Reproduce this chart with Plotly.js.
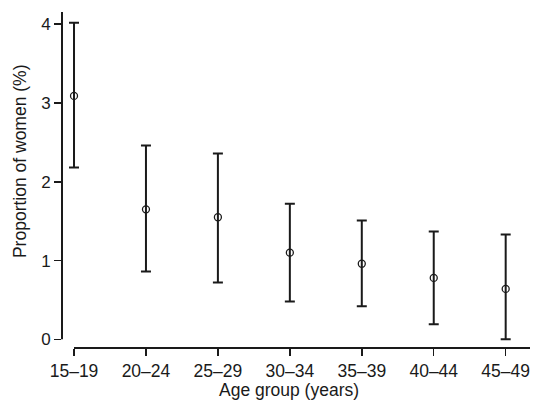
<!DOCTYPE html>
<html>
<head>
<meta charset="utf-8">
<script src="https://cdn.plot.ly/plotly-3.0.1.min.js"></script>
<style>html,body{margin:0;padding:0;background:#fff;}#chart{width:548px;height:405px;}</style>
</head>
<body>
<div id="chart"></div>
<script>
const ageGroups = ["15–19", "20–24", "25–29", "30–34", "35–39", "40–44", "45–49"];
const proportion = [3.09, 1.65, 1.55, 1.10, 0.96, 0.78, 0.64];
const upperCI = [4.02, 2.46, 2.36, 1.72, 1.51, 1.37, 1.33];
const lowerCI = [2.18, 0.86, 0.72, 0.48, 0.42, 0.19, 0.00];

const errPlus = proportion.map((v, i) => upperCI[i] - v);
const errMinus = proportion.map((v, i) => v - lowerCI[i]);

const ink = '#1a1a1a';
const font = 'Liberation Sans, Arial, sans-serif';

const trace = {
  type: 'scatter',
  mode: 'markers',
  x: ageGroups,
  y: proportion,
  marker: {symbol: 'circle-open', size: 7, color: ink, line: {width: 1.3, color: ink}},
  error_y: {type: 'data', symmetric: false, array: errPlus, arrayminus: errMinus,
            color: ink, thickness: 2, width: 5},
  showlegend: false,
  hoverinfo: 'skip'
};

const xTop = 6.338;
const yTop = 4.155;

const layout = {
  width: 548, height: 405,
  margin: {l: 62, r: 18, t: 12, b: 57},
  paper_bgcolor: '#fff', plot_bgcolor: '#fff',
  font: {family: font, color: ink, size: 17},
  xaxis: {
    type: 'category', range: [-0.167, xTop],
    showline: false, showgrid: false, zeroline: false,
    ticks: 'outside', ticklen: 7, tickwidth: 1.5, tickcolor: ink,
    tickfont: {size: 17.5, family: font, color: ink}
  },
  yaxis: {
    range: [-0.11, yTop], dtick: 1, tick0: 0,
    showline: false, showgrid: false, zeroline: false,
    ticks: 'outside', ticklen: 7, tickwidth: 1.5, tickcolor: ink,
    tickfont: {size: 17, family: font, color: ink}
  },
  shapes: [
    {type: 'line', xref: 'paper', yref: 'y', x0: 0, x1: 0, y0: 0, y1: yTop,
     line: {color: ink, width: 2}},
    {type: 'line', xref: 'x', yref: 'paper', x0: 0, x1: xTop, y0: 0, y1: 0,
     line: {color: ink, width: 2}}
  ],
  annotations: [
    {text: 'Proportion of women (%)', xref: 'paper', yref: 'paper',
     x: -0.09, y: 0.556, xanchor: 'center', yanchor: 'middle', textangle: -90,
     showarrow: false, font: {size: 17.5, family: font, color: ink}},
    {text: 'Age group (years)', xref: 'paper', yref: 'paper',
     x: 0.485, y: -0.125, xanchor: 'center', yanchor: 'middle',
     showarrow: false, font: {size: 17.5, family: font, color: ink}}
  ]
};

Plotly.newPlot('chart', [trace], layout, {displayModeBar: false, staticPlot: true});
</script>
</body>
</html>
